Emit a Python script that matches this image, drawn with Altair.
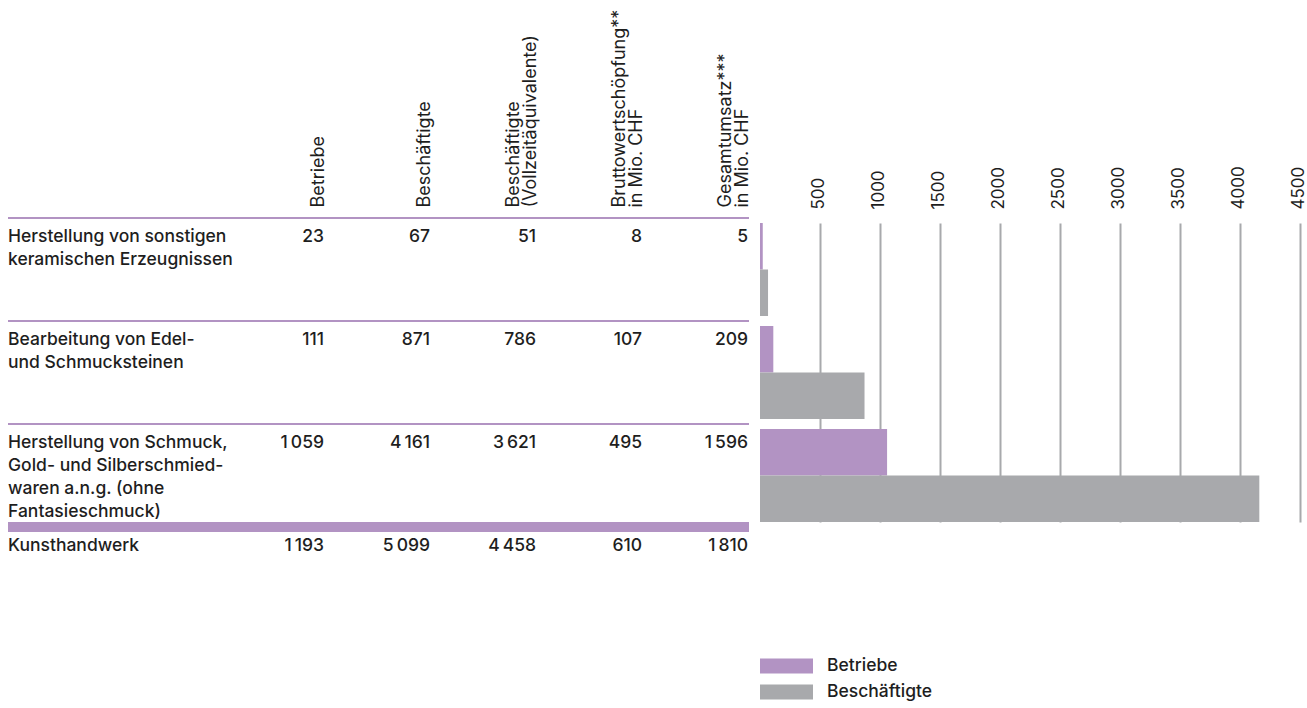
import altair as alt
import pandas as pd

# Industry rows of the table (line breaks as printed)
categories = [
    "Herstellung von sonstigen\nkeramischen Erzeugnissen",
    "Bearbeitung von Edel-\nund Schmucksteinen",
    "Herstellung von Schmuck,\nGold- und Silberschmied-\nwaren a.n.g. (ohne\nFantasieschmuck)",
]
total_label = "Kunsthandwerk"

# Table columns (header text, line breaks as printed)
columns = [
    "Betriebe",
    "Beschäftigte",
    "Beschäftigte\n(Vollzeitäquivalente)",
    "Bruttowertschöpfung**\nin Mio. CHF",
    "Gesamtumsatz***\nin Mio. CHF",
]

# Values per row
betriebe = [23, 111, 1059]
beschaeftigte = [67, 871, 4161]
vollzeit = [51, 786, 3621]
wertschoepfung = [8, 107, 495]
umsatz = [5, 209, 1596]

# Totals for Kunsthandwerk, in column order
total_values = [1193, 5099, 4458, 610, 1810]

series = ["Betriebe", "Beschäftigte"]
x_ticks = [500, 1000, 1500, 2000, 2500, 3000, 3500, 4000, 4500]

PURPLE = "#b293c3"
GREY = "#a8a9ac"
TEXT = "#1e1e1e"
FONT = "Inter"
ROW_SIZE = 17.5
HEAD_SIZE = 18
TICK_SIZE = 17
LINE_GAP = 17

rows = categories + [total_label]
single_line_cols = [c for c in columns if "\n" not in c]
two_line_cols = [c for c in columns if "\n" in c]


def fmt(v):
    return f"{v:,}".replace(",", "\u2009")


table_records = []
for i, cat in enumerate(categories):
    vals = [betriebe[i], beschaeftigte[i], vollzeit[i], wertschoepfung[i], umsatz[i]]
    for col, v in zip(columns, vals):
        table_records.append({"row": cat, "column": col, "value": v, "label": fmt(v)})
for col, v in zip(columns, total_values):
    table_records.append({"row": total_label, "column": col, "value": v, "label": fmt(v)})
table_df = pd.DataFrame(table_records)

bar_records = []
for i, cat in enumerate(categories):
    bar_records.append({"row": cat, "series": series[0], "value": betriebe[i]})
    bar_records.append({"row": cat, "series": series[1], "value": beschaeftigte[i]})
bars_df = pd.DataFrame(bar_records)

rows_df = pd.DataFrame({"row": rows, "kind": ["cat"] * len(categories) + ["total"]})

# Bar bands: 93 px per row pair, 103 px step
bar_y = alt.Scale(domain=categories, range=[6, 305], paddingInner=0.097, paddingOuter=0)
# Row starts for the table text (same 103 px step, total row included)
text_y = alt.Scale(type="point", domain=rows, range=[6, 315], padding=0)
# Separator lines in the gap above each row
sep_y = alt.Scale(type="point", domain=rows, range=[1, 310], padding=0)
# Table column anchors (right edges of the figures)
col_x = alt.Scale(type="point", domain=columns, range=[316, 740], padding=0)

sep_thin = (
    alt.Chart(rows_df)
    .transform_filter(alt.datum.kind == "cat")
    .mark_rule(color=PURPLE, strokeWidth=2)
    .encode(x=alt.value(0), x2=alt.value(741), y=alt.Y("row:N", scale=sep_y, axis=None))
)
sep_thick = (
    alt.Chart(rows_df)
    .transform_filter(alt.datum.kind == "total")
    .mark_rule(color=PURPLE, strokeWidth=10)
    .encode(x=alt.value(0), x2=alt.value(741), y=alt.Y("row:N", scale=sep_y, axis=None))
)

# Horizontal bars: Betriebe and Beschäftigte per row
bars = (
    alt.Chart(bars_df)
    .mark_bar()
    .encode(
        x=alt.X(
            "value:Q",
            scale=alt.Scale(domain=[0, 4500], range=[752, 1292], nice=False),
            axis=alt.Axis(
                orient="top",
                values=x_ticks,
                title=None,
                format="d",
                labelAngle=-90,
                labelAlign="left",
                labelBaseline="alphabetic",
                labelPadding=8,
                labelOffset=3,
                labelFlush=False,
                labelOverlap=False,
                labelFont=FONT,
                labelFontSize=TICK_SIZE,
                labelColor=TEXT,
                grid=True,
                gridColor=GREY,
                gridWidth=2,
                ticks=False,
                domain=False,
            ),
        ),
        y=alt.Y("row:N", scale=bar_y, axis=None),
        yOffset=alt.YOffset("series:N", scale=alt.Scale(domain=series, paddingInner=0, paddingOuter=0)),
        color=alt.Color(
            "series:N",
            scale=alt.Scale(domain=series, range=[PURPLE, GREY]),
            legend=alt.Legend(
                orient="none",
                legendX=752,
                legendY=436,
                title=None,
                symbolType="M-1,-0.283H1V0.283H-1Z",
                symbolSize=2809,
                symbolStrokeWidth=0,
                symbolOpacity=1,
                clipHeight=26,
                rowPadding=0,
                padding=0,
                labelOffset=14,
                labelFont=FONT,
                labelFontSize=ROW_SIZE,
                labelFontWeight=500,
                labelColor=TEXT,
            ),
        ),
    )
)


def header_axis(values, offset):
    return alt.Axis(
        orient="top",
        title=None,
        values=values,
        labelExpr="split(datum.label, '\\n')",
        labelAngle=-90,
        labelAlign="left",
        labelBaseline="alphabetic",
        labelLineHeight=LINE_GAP,
        labelPadding=10,
        labelOffset=offset,
        labelLimit=400,
        labelOverlap=False,
        labelFont=FONT,
        labelFontSize=HEAD_SIZE,
        labelColor=TEXT,
        ticks=False,
        domain=False,
        grid=False,
    )


def figures(cols, offset):
    return (
        alt.Chart(table_df)
        .transform_filter(alt.FieldOneOfPredicate(field="column", oneOf=cols))
        .mark_text(align="right", baseline="alphabetic", dy=19, font=FONT,
                   fontSize=ROW_SIZE, fontWeight=500, color=TEXT)
        .encode(
            x=alt.X("column:N", scale=col_x, axis=header_axis(cols, offset)),
            y=alt.Y("row:N", scale=text_y, axis=None),
            text="label:N",
        )
    )


# Table figures; header texts are the column axes
nums_single = figures(single_line_cols, -1)
nums_double = figures(two_line_cols, -1 - LINE_GAP)

# Row labels
labels = (
    alt.Chart(rows_df)
    .mark_text(
        align="left", baseline="alphabetic", dy=19, lineBreak="\n", lineHeight=23,
        font=FONT, fontSize=ROW_SIZE, fontWeight=500, color=TEXT,
    )
    .encode(
        x=alt.value(0),
        y=alt.Y("row:N", scale=text_y, axis=None),
        text="row:N",
    )
)

chart = (
    alt.layer(sep_thin, sep_thick, bars, nums_single, nums_double, labels)
    .resolve_scale(x="independent", y="independent")
    .properties(
        width=1292,
        height=316,
        autosize=alt.AutoSizeParams(type="none"),
        padding={"left": 8, "top": 217, "right": 7, "bottom": 175},
        view=alt.ViewBackground(stroke="transparent", strokeWidth=0),
    )
    .configure_view(stroke="transparent", strokeWidth=0)
    .configure(background="white")
)

chart.save("out.html", embed_options={"renderer": "svg", "actions": False})
